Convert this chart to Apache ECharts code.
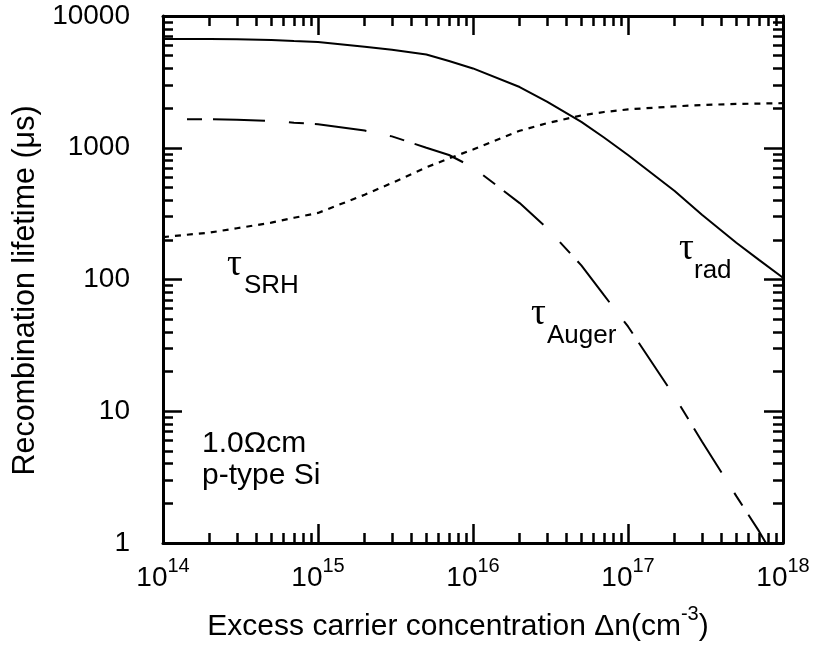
<!DOCTYPE html>
<html>
<head>
<meta charset="utf-8">
<script src="https://cdn.jsdelivr.net/npm/echarts@6.0.0/dist/echarts.min.js"></script>
<style>
html, body { margin: 0; padding: 0; background: #fff; }
#main { width: 816px; height: 665px; }
</style>
</head>
<body>
<div id="main"></div>
<script>
// excess carrier concentration (cm^-3)
var concentration = [1e14, 2e14, 3e14, 5e14, 7e14, 1e15, 2e15, 3e15, 5e15, 7e15, 1e16, 2e16, 3e16, 5e16, 7e16, 1e17, 2e17, 3e17, 5e17, 7e17, 1e18];
// lifetimes (us)
var tauRad   = [6700, 6680, 6650, 6580, 6450, 6350, 5850, 5550, 5100, 4550, 4000, 2890, 2240, 1570, 1196, 880, 470, 310, 190, 141, 103];
var tauAuger = [1650, 1645, 1630, 1600, 1550, 1510, 1350, 1220, 1000, 881, 710, 380, 246, 128, 76, 44, 12.9, 5.9, 2.27, 1.23, 0.6];
var tauSRH   = [210, 227, 245, 270, 294, 320, 440, 540, 710, 830, 970, 1345, 1535, 1760, 1867, 1955, 2060, 2110, 2150, 2165, 2180];
// decades (log10) for the axis ranges
var xDecades = [14, 15, 16, 17, 18];
var yDecades = [0, 1, 2, 3, 4];

var FONT = 'Liberation Sans, Arial, Helvetica, sans-serif';
var SERIF = 'Liberation Serif, Times New Roman, serif';

function pairs(ys) {
    return concentration.map(function (x, i) { return [x, ys[i]]; });
}

// minor tick positions 2..9 x 10^n, in log10 units
function minorTicks(decades) {
    var out = [];
    for (var i = 0; i < decades.length - 1; i++) {
        for (var m = 2; m <= 9; m++) out.push(decades[i] + Math.log10(m));
    }
    return out;
}

var gridBox = { left: 163, right: 33, top: 16, bottom: 122, containLabel: false, outerBoundsMode: 'none' };

var frameLine = { onZero: false, lineStyle: { color: '#000', width: 3 } };
var majorTick = { inside: true, length: 19, lineStyle: { color: '#000', width: 2.5 } };

function minorAxis(pos, range, ticks) {
    return {
        type: 'value', gridIndex: 1, position: pos,
        min: range[0], max: range[range.length - 1],
        axisLine: { show: false, onZero: false },
        axisTick: { show: true, inside: true, length: 10, customValues: ticks, lineStyle: { color: '#000', width: 2.5 } },
        axisLabel: { show: false },
        splitLine: { show: false }
    };
}

var option = {
    animation: false,
    backgroundColor: '#fff',
    grid: [
        Object.assign({}, gridBox),
        Object.assign({}, gridBox)
    ],
    xAxis: [
        {
            type: 'log', gridIndex: 0, position: 'bottom',
            min: Math.pow(10, xDecades[0]), max: Math.pow(10, xDecades[xDecades.length - 1]),
            axisLine: frameLine,
            axisTick: majorTick,
            splitLine: { show: false },
            axisLabel: {
                margin: 13,
                formatter: function (v) {
                    return '{b|10}{s|' + Math.round(Math.log10(v)) + '}';
                },
                rich: {
                    b: { fontFamily: FONT, fontSize: 28, color: '#000', lineHeight: 44 },
                    s: { fontFamily: FONT, fontSize: 20, color: '#000', lineHeight: 20, verticalAlign: 'top' }
                }
            },
            name: 'Excess carrier concentration Δn(cm{s|-3})',
            nameLocation: 'middle',
            nameGap: 61,
            nameTextStyle: {
                fontFamily: FONT, fontSize: 30, color: '#000', lineHeight: 46,
                padding: [0, 30, 0, 0],
                rich: {
                    s: { fontFamily: FONT, fontSize: 20, color: '#000', lineHeight: 20, verticalAlign: 'top' }
                }
            }
        },
        {
            type: 'log', gridIndex: 0, position: 'top',
            min: Math.pow(10, xDecades[0]), max: Math.pow(10, xDecades[xDecades.length - 1]),
            axisLine: frameLine,
            axisTick: majorTick,
            axisLabel: { show: false },
            splitLine: { show: false }
        },
        minorAxis('bottom', xDecades, minorTicks(xDecades)),
        minorAxis('top', xDecades, minorTicks(xDecades))
    ],
    yAxis: [
        {
            type: 'log', gridIndex: 0, position: 'left',
            min: Math.pow(10, yDecades[0]), max: Math.pow(10, yDecades[yDecades.length - 1]),
            axisLine: frameLine,
            axisTick: majorTick,
            splitLine: { show: false },
            axisLabel: {
                margin: 33,
                fontFamily: FONT, fontSize: 28, color: '#000',
                padding: [4, 0, 0, 0],
                formatter: function (v) { return String(Math.round(v)); }
            },
            name: 'Recombination lifetime (μs)',
            nameLocation: 'middle',
            nameGap: 119,
            nameTextStyle: {
                fontFamily: FONT, fontSize: 30.5, color: '#000', lineHeight: 30,
                padding: [0, 22, 0, 0]
            }
        },
        {
            type: 'log', gridIndex: 0, position: 'right',
            min: Math.pow(10, yDecades[0]), max: Math.pow(10, yDecades[yDecades.length - 1]),
            axisLine: frameLine,
            axisTick: majorTick,
            axisLabel: { show: false },
            splitLine: { show: false }
        },
        minorAxis('left', yDecades, minorTicks(yDecades)),
        minorAxis('right', yDecades, minorTicks(yDecades))
    ],
    series: [
        {
            name: 'τrad', type: 'line', xAxisIndex: 0, yAxisIndex: 0,
            data: pairs(tauRad), symbol: 'none', smooth: false,
            lineStyle: { color: '#000', width: 2, type: 'solid' }
        },
        {
            name: 'τAuger', type: 'line', xAxisIndex: 0, yAxisIndex: 0,
            data: pairs(tauAuger), symbol: 'none', smooth: false,
            lineStyle: { color: '#000', width: 2, type: [52, 24, 15, 11], dashOffset: 52 }
        },
        {
            name: 'τSRH', type: 'line', xAxisIndex: 0, yAxisIndex: 0,
            data: pairs(tauSRH), symbol: 'none', smooth: false,
            lineStyle: { color: '#000', width: 2.2, type: [6, 6] }
        }
    ],
    graphic: [
        { type: 'text', x: 227, y: 265, style: { text: 'τ', font: '37px ' + SERIF, fill: '#000', align: 'left', verticalAlign: 'middle' } },
        { type: 'text', x: 244, y: 286, style: { text: 'SRH', font: '26px ' + FONT, fill: '#000', align: 'left', verticalAlign: 'middle' } },
        { type: 'text', x: 531, y: 314, style: { text: 'τ', font: '37px ' + SERIF, fill: '#000', align: 'left', verticalAlign: 'middle' } },
        { type: 'text', x: 547, y: 336, style: { text: 'Auger', font: '26px ' + FONT, fill: '#000', align: 'left', verticalAlign: 'middle' } },
        { type: 'text', x: 679, y: 249, style: { text: 'τ', font: '37px ' + SERIF, fill: '#000', align: 'left', verticalAlign: 'middle' } },
        { type: 'text', x: 694, y: 271, style: { text: 'rad', font: '26px ' + FONT, fill: '#000', align: 'left', verticalAlign: 'middle' } },
        { type: 'text', x: 202, y: 444, style: { text: '1.0Ωcm', font: '30px ' + FONT, fill: '#000', align: 'left', verticalAlign: 'middle' } },
        { type: 'text', x: 202, y: 476, style: { text: 'p-type Si', font: '30px ' + FONT, fill: '#000', align: 'left', verticalAlign: 'middle' } }
    ]
};

var chart = echarts.init(document.getElementById('main'), null, { renderer: 'canvas' });
chart.setOption(option);
</script>
</body>
</html>
